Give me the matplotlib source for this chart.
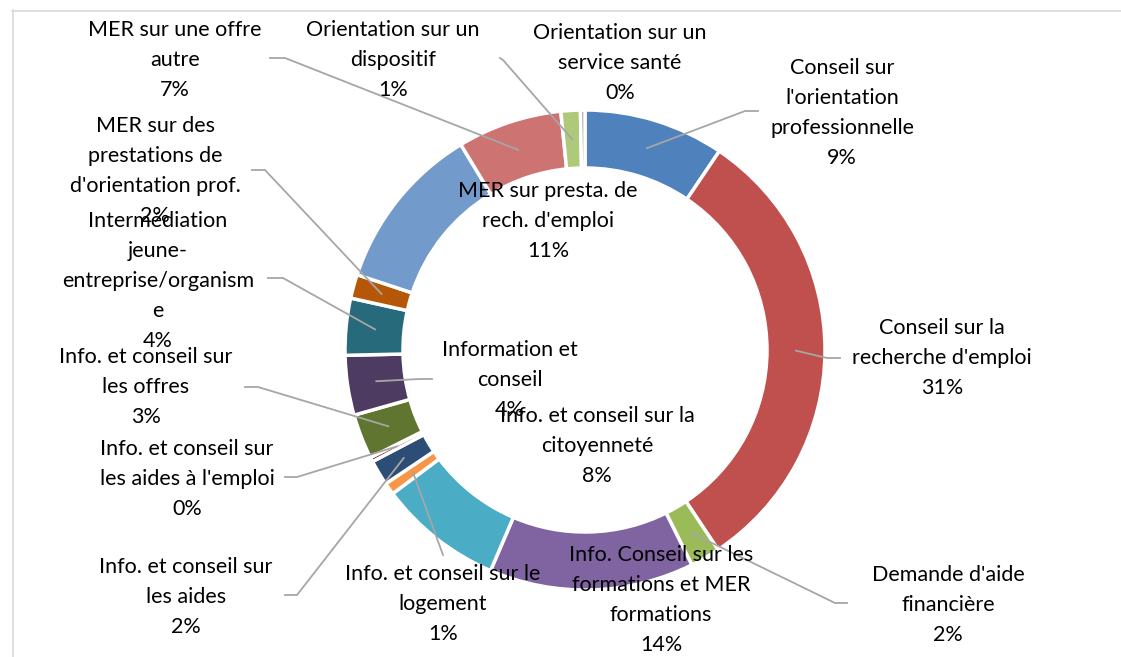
import matplotlib
matplotlib.use("Agg")
import matplotlib.pyplot as plt
import numpy as np

categories = [
    "Conseil sur\nl'orientation\nprofessionnelle",
    "Conseil sur la\nrecherche d'emploi",
    "Demande d'aide\nfinancière",
    "Info. Conseil sur les\nformations et MER\nformations",
    "Info. et conseil sur la\ncitoyenneté",
    "Info. et conseil sur le\nlogement",
    "Info. et conseil sur\nles aides",
    "Info. et conseil sur\nles aides à l'emploi",
    "Info. et conseil sur\nles offres",
    "Information et\nconseil",
    "Intermédiation\njeune-\nentreprise/organism\ne",
    "MER sur des\nprestations de\nd'orientation prof.",
    "MER sur presta. de\nrech. d'emploi",
    "MER sur une offre\nautre",
    "Orientation sur un\ndispositif",
    "Orientation sur un\nservice santé",
]
values = [9.4, 31.0, 2.0, 13.7, 8.3, 0.8, 1.7, 0.3, 3.0, 4.0, 3.8, 1.6, 11.2, 7.0, 1.3, 0.3]
colors = ["#4F81BD", "#C0504D", "#9BBB59", "#8064A2", "#4BACC6", "#F79646",
          "#2C4D75", "#772C2A", "#5F7530", "#4D3B62", "#276A7C", "#B65708",
          "#729ACA", "#CD7371", "#AFC97A", "#A08EBE"]

# label centres (pixel coords) and leader starts (None = no leader)
label_pos = [(842, 113), (942, 358), (948, 605), (661, 600), (597, 446), (443, 604),
             (186, 597), (187, 479), (146, 387), (510, 380), (158, 281), (155, 171),
             (548, 221), (175, 60), (393, 60), (620, 63)]
leader_start = [[(758, 111), (745, 111)], [(840, 358), (827, 358)], [(847, 603), (835, 603)],
                None, None, [(443, 555)],
                [(285, 595), (297, 595)], [(285, 477), (297, 477)], [(245, 387), (258, 387)],
                [(432, 379), (420, 379)], [(268, 278), (283, 278)], [(252, 170), (265, 170)],
                None, [(270, 58), (285, 58)], [(500, 58), (503, 60)], None]

W, H = 1121, 657
fig = plt.figure(figsize=(W / 100, H / 100), dpi=100)
ax = fig.add_axes([0, 0, 1, 1])

cx, cy, R, ring = 585, 350, 240, 58
wedges, _ = ax.pie(values, colors=colors, startangle=-90, counterclock=True,
                   radius=R, center=(cx, cy), frame=True,
                   wedgeprops=dict(width=ring, edgecolor="white", linewidth=2.5))
ax.set_xlim(0, W)
ax.set_ylim(H, 0)
ax.set_aspect("equal")
ax.axis("off")

total = sum(values)
rmid = R - ring / 2
for w, cat, v, pos, ls in zip(wedges, categories, values, label_pos, leader_start):
    pct = f"{round(v / total * 100):.0f}%"
    if ls is not None:
        a = np.deg2rad((w.theta1 + w.theta2) / 2)
        px, py = cx + rmid * np.cos(a), cy + rmid * np.sin(a)
        xs = [p[0] for p in ls] + [px]
        ys = [p[1] for p in ls] + [py]
        ax.plot(xs, ys, color="#A6A6A6", lw=1.3, zorder=3)
    ax.text(pos[0], pos[1], cat + "\n" + pct, ha="center", va="center",
            fontsize=15.5, family=["Lato", "DejaVu Sans"], color="#000000",
            linespacing=1.64, zorder=4)

# chart border
ax.plot([12, W], [10.5, 10.5], color="#D9D9D9", lw=1.2, clip_on=False)
ax.plot([12.5, 12.5], [10, H], color="#D9D9D9", lw=1.2, clip_on=False)

fig.savefig("out.png", dpi=100)
